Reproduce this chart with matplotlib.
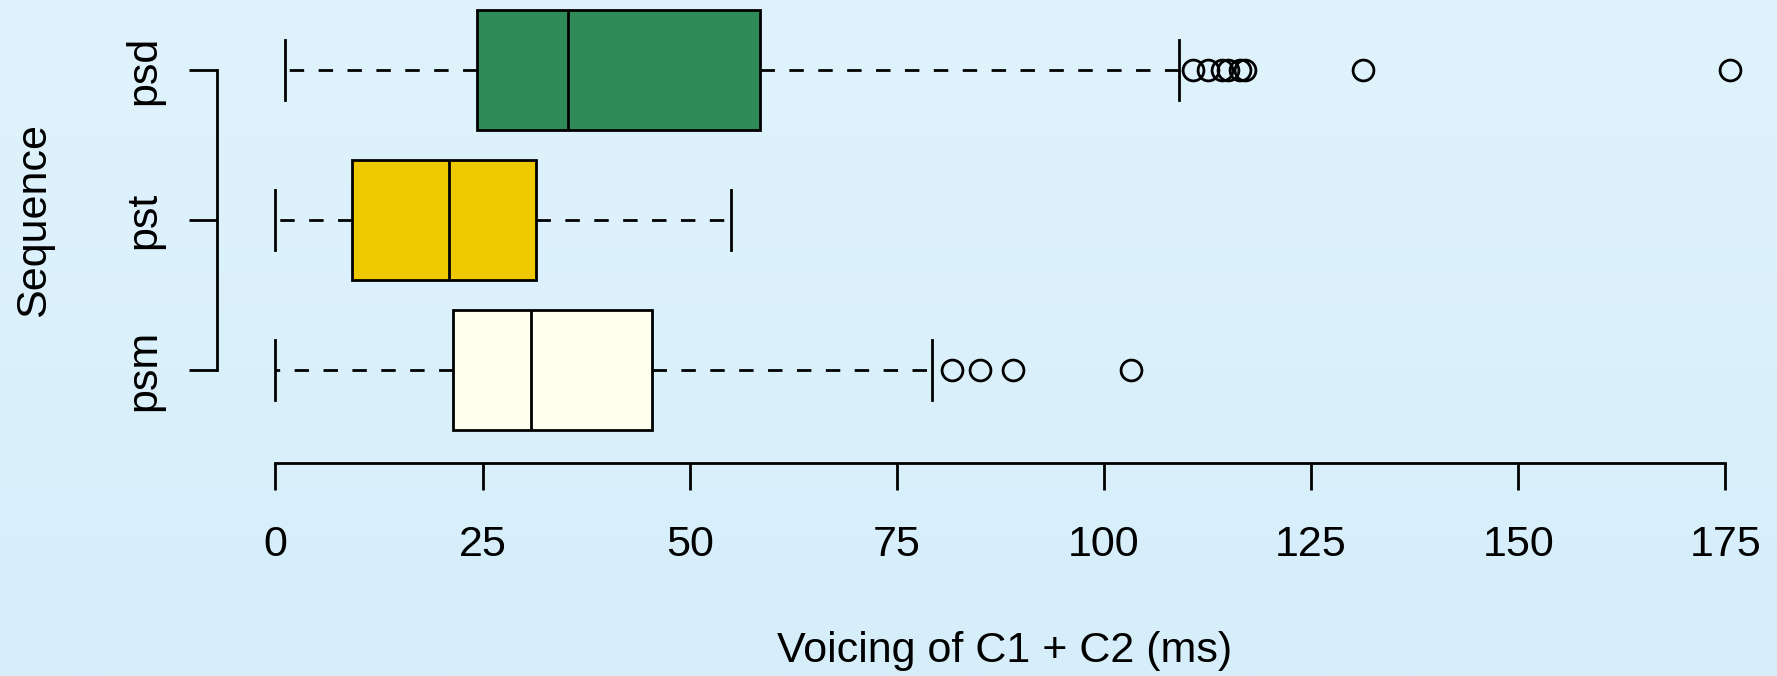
import matplotlib

matplotlib.use("Agg")
import matplotlib.pyplot as plt
import numpy as np

# values (ms)
categories = ["psm", "pst", "psd"]
q1 = [21.45, 9.2, 24.3]
medians = [30.9, 21.0, 35.3]
q3 = [45.5, 31.5, 58.5]
whisker_low = [0.0, 0.0, 1.2]
whisker_high = [79.2, 55.0, 109.1]
outliers = [
    [81.7, 85.0, 89.0, 103.3],
    [],
    [110.7, 112.5, 114.2, 115.0, 116.4, 117.0, 131.3, 175.6],
]
box_colors = ["#fffff0", "#eec900", "#2e8b57"]
x_ticks = [0, 25, 50, 75, 100, 125, 150, 175]

plt.rcParams["font.family"] = ["Liberation Sans", "DejaVu Sans"]
plt.rcParams["font.size"] = 31

W, H, DPI = 1777, 676, 100
fig = plt.figure(figsize=(W / DPI, H / DPI), dpi=DPI)

# soft vertical background gradient
bg = fig.add_axes([0, 0, 1, 1], zorder=-10)
top = np.array([0xE0, 0xF3, 0xFC]) / 255
bottom = np.array([0xD5, 0xEE, 0xFA]) / 255
t = np.linspace(0, 1, 256)[:, None]
grad = top[None, :] * (1 - t) + bottom[None, :] * t
bg.imshow(grad[:, None, :], aspect="auto", extent=[0, 1, 0, 1])
bg.set_axis_off()

# axes placed so the data maps to the reference pixel grid
xlim = (-7.02, 182.6)
ylim = (0.38, 3.62)
left_px, right_px = 217.2, 1788.4
bottom_px, top_px = 463.0, -23.0
ax = fig.add_axes([
    left_px / W,
    1 - bottom_px / H,
    (right_px - left_px) / W,
    (bottom_px - top_px) / H,
])
ax.set_facecolor("none")

lw = 2.0
stats = []
for i, name in enumerate(categories):
    stats.append({
        "label": name,
        "q1": q1[i],
        "med": medians[i],
        "q3": q3[i],
        "whislo": whisker_low[i],
        "whishi": whisker_high[i],
        "fliers": outliers[i],
    })

parts = ax.bxp(
    stats,
    positions=[1, 2, 3],
    widths=0.8,
    capwidths=0.4,
    vert=False,
    patch_artist=True,
    boxprops=dict(edgecolor="black", linewidth=lw),
    medianprops=dict(color="black", linewidth=lw),
    whiskerprops=dict(color="black", linewidth=lw, linestyle=(0, (5.2, 5.2))),
    capprops=dict(color="black", linewidth=lw),
    flierprops=dict(marker="o", markersize=15, markerfacecolor="none",
                    markeredgecolor="black", markeredgewidth=lw),
)
for patch, color in zip(parts["boxes"], box_colors):
    patch.set_facecolor(color)

ax.set_xlim(*xlim)
ax.set_ylim(*ylim)

for side in ("top", "right"):
    ax.spines[side].set_visible(False)
ax.spines["left"].set_bounds(1, 3)
ax.spines["bottom"].set_bounds(0, 175)
ax.spines["left"].set_linewidth(lw)
ax.spines["bottom"].set_linewidth(lw)

ax.set_xticks(x_ticks)
ax.set_xticklabels([str(v) for v in x_ticks])
ax.set_yticks([1, 2, 3])
ax.set_yticklabels(categories, rotation=90, va="center")
ax.tick_params(axis="x", direction="out", length=19.7, width=lw, pad=25)
ax.tick_params(axis="y", direction="out", length=20, width=lw, pad=18)

ax.set_xlabel("Voicing of C1 + C2 (ms)")
ax.xaxis.set_label_coords(0.501, -0.345)
ax.set_ylabel("Sequence")
ax.yaxis.set_label_coords(-0.104, 0.5)

fig.savefig("out.png", dpi=DPI)
